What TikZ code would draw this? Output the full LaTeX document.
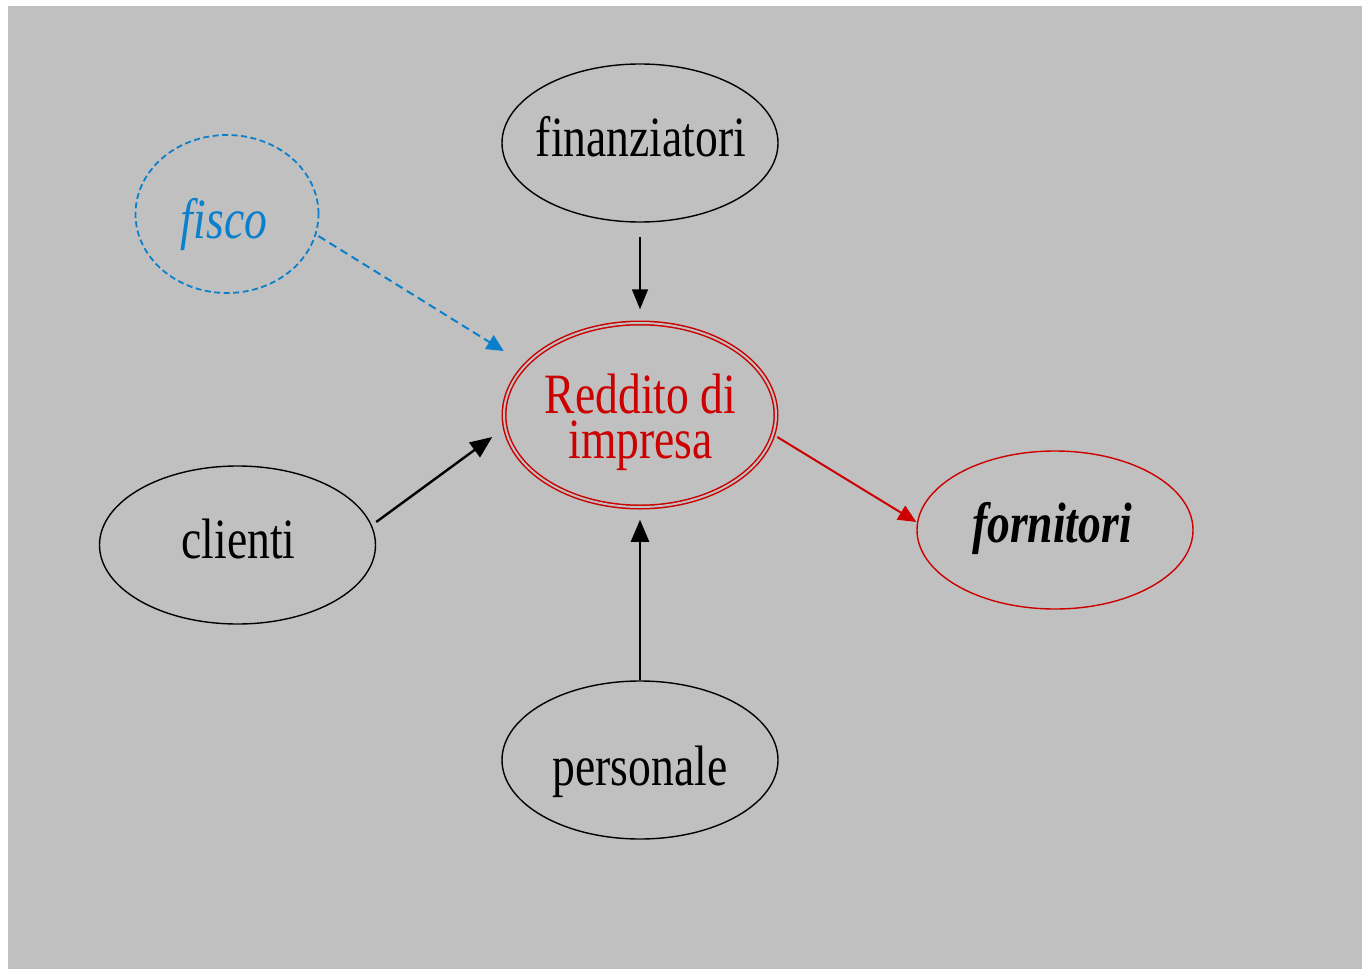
\documentclass[tikz,border=0pt]{standalone}
\usepackage{fontspec}
\setmainfont{Liberation Serif}[FakeStretch=0.8]
\usetikzlibrary{shapes.geometric,arrows.meta,calc}
\definecolor{bggray}{RGB}{192,192,192}
\definecolor{dred}{RGB}{204,0,0}
\definecolor{dblue}{RGB}{10,128,204}
\tikzset{
  oval/.style={ellipse, draw, line width=1.4pt, minimum width=276pt, minimum height=158pt, inner sep=0pt},
  lbl/.style={anchor=base, inner sep=0pt, font=\fontsize{57}{45}\selectfont},
  arr/.style={line width=2.4pt, -{Triangle[length=22pt,width=18pt]}},
  thinarr/.style={line width=1.5pt, -{Triangle[length=20pt,width=16pt]}}
}
\begin{document}
\begin{tikzpicture}[x=1pt,y=-1pt]
\useasboundingbox (0,0) rectangle (1362,971);
\fill[bggray] (8,6) rectangle (1362,969);
% ellipses
\node[oval] (fin) at (640,143) {};
\node[oval, draw=dblue, dashed, dash pattern=on 6pt off 3.5pt, line width=1.8pt, minimum width=183pt] (fis) at (227,214) {};
\node[ellipse, draw=dred, line width=1.5pt, double=bggray, double distance=2pt, minimum width=272pt, minimum height=184pt, inner sep=0pt] (red) at (640,415) {};
\node[oval] (cli) at (237.5,545) {};
\node[oval, draw=dred] (for) at (1055,530) {};
\node[oval] (per) at (640,760) {};
% texts
\node[lbl] (finT) at (641,157) {finanziatori};
\node[lbl, text=dblue] (fisT) at (224,238) {\itshape fisco};
\node[lbl, anchor=center, align=center, text=dred] (redT) at (640.5,422) {Reddito di\\impresa};
\node[lbl] (cliT) at (238.5,558) {clienti};
\node[lbl] (forT) at (1052,542) {\bfseries\itshape fornitori};
\node[lbl] (perT) at (640,785) {personale};
% connectors
\draw[thinarr, shorten <=14pt, shorten >=13pt] (fin.south) -- (red.north);
\draw[arr] (per.north) -- ($(red.south)+(0,12)$);
\draw[arr] ($(cli.east)+(0,-23)$) -- ($(red.west)+(-11,22)$);
\draw[dblue, line width=2pt, dash pattern=on 8pt off 5pt, -{Triangle[length=17pt,width=16pt]}] ($(fis.east)+(-1,22)$) -- ($(red.west)+(0.5,-64)$);
\draw[dred, line width=2pt, -{Triangle[length=18pt,width=16pt]}] ($(red.east)+(0.5,22)$) -- ($(for.west)+(0,-8)$);
\end{tikzpicture}
\end{document}
